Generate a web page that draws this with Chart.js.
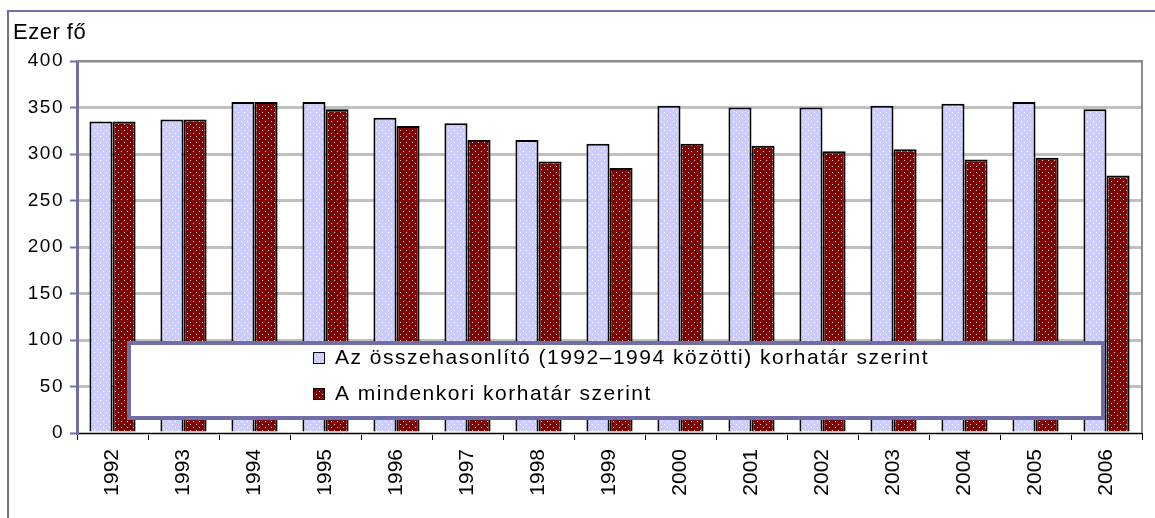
<!DOCTYPE html>
<html>
<head>
<meta charset="utf-8">
<script src="https://cdn.jsdelivr.net/npm/chart.js@4/dist/chart.umd.min.js"></script>
<style>
html,body{margin:0;padding:0;background:#fff;}
#c{display:block;}
</style>
</head>
<body>
<canvas id="c" width="1155" height="518"></canvas>
<script>
const years = ['1992','1993','1994','1995','1996','1997','1998','1999','2000','2001','2002','2003','2004','2005','2006'];
const comparativeAge = [335,337,356,356,339,333,315,311,352,350,350,352,354,356,348];
const currentAge = [335,337,356,348,330,315,292,285,311,309,303,305,294,296,277];
const seriesNames = ['Az összehasonlító (1992–1994 közötti) korhatár szerint', 'A mindenkori korhatár szerint'];
const axisTitle = 'Ezer fő';
const yMin = 0, yMax = 400, yStep = 50;

const FONT = "'Liberation Sans', Arial, sans-serif";
const SLATE = '#6f6fa6';

function makePattern(bg, dot){
  const t = document.createElement('canvas');
  t.width = 6; t.height = 6;
  const g = t.getContext('2d');
  g.fillStyle = bg; g.fillRect(0,0,6,6);
  g.fillStyle = dot;
  g.fillRect(1,1,1,1);
  g.fillRect(4,4,1,1);
  return g.createPattern(t,'repeat');
}
const ctx0 = document.getElementById('c').getContext('2d');
const bluePat = makePattern('#ccccff', '#ffffff');
const redPat = makePattern('#800000', '#f0d8d8');

const decor = {
  id: 'decor',
  beforeDraw(chart){
    const ctx = chart.ctx;
    ctx.save();
    ctx.fillStyle = '#fff';
    ctx.fillRect(0,0,chart.width,chart.height);
    ctx.strokeStyle = SLATE; ctx.lineWidth = 2;
    ctx.beginPath();
    ctx.moveTo(8, chart.height+5); ctx.lineTo(8, 11); ctx.lineTo(chart.width+5, 11);
    ctx.stroke();
    ctx.fillStyle = '#000';
    ctx.font = '22px ' + FONT;
    ctx.letterSpacing = '0.5px';
    ctx.textBaseline = 'alphabetic';
    ctx.fillText(axisTitle, 13, 39);
    ctx.restore();
    const ys = chart.scales.y;
    if (ys && !ys._wrapped){
      const orig = ys.drawLabels;
      ys.drawLabels = function(area){
        const c = this.ctx; c.save(); c.letterSpacing = '1.5px'; orig.call(this, area); c.restore();
      };
      ys._wrapped = true;
    }
  },
  afterDatasetsDraw(chart){
    const ctx = chart.ctx, a = chart.chartArea;
    ctx.save();
    ctx.strokeStyle = '#8c8c8c'; ctx.lineWidth = 2;
    ctx.beginPath();
    ctx.moveTo(a.left, a.top); ctx.lineTo(a.right, a.top); ctx.lineTo(a.right, a.bottom);
    ctx.stroke();
    const lx = 129, ly = 343, lw = 974, lh = 75;
    ctx.fillStyle = '#fff';
    ctx.fillRect(lx, ly, lw, lh);
    ctx.strokeStyle = SLATE; ctx.lineWidth = 4;
    ctx.strokeRect(lx, ly, lw, lh);
    ctx.font = '21px ' + FONT;
    ctx.fillStyle = '#000';
    ctx.textBaseline = 'middle';
    ctx.letterSpacing = '0px';
    const w0 = ctx.measureText(seriesNames[0]).width;
    const sp = Math.max(0, (594 - w0) / seriesNames[0].length);
    ctx.letterSpacing = sp.toFixed(2) + 'px';
    const pats = [bluePat, redPat];
    const rows = [358, 394];
    for (let i = 0; i < 2; i++){
      ctx.fillStyle = pats[i];
      ctx.fillRect(313, rows[i]-6, 11, 11);
      ctx.strokeStyle = '#000'; ctx.lineWidth = 1;
      ctx.strokeRect(313.5, rows[i]-5.5, 11, 11);
      ctx.fillStyle = '#000';
      ctx.fillText(seriesNames[i], 335, rows[i]);
    }
    ctx.restore();
  }
};

new Chart(ctx0, {
  type: 'bar',
  data: {
    labels: years,
    datasets: [
      { label: seriesNames[0], data: comparativeAge, backgroundColor: bluePat, borderColor: '#000', borderWidth: 2, borderSkipped: 'bottom' },
      { label: seriesNames[1], data: currentAge, backgroundColor: redPat, borderColor: '#000', borderWidth: 2, borderSkipped: 'bottom' }
    ]
  },
  options: {
    responsive: false,
    animation: false,
    events: [],
    layout: { padding: { left: 0, right: 13, top: 61, bottom: 0 } },
    datasets: { bar: { categoryPercentage: 0.65, barPercentage: 1.0 } },
    plugins: { legend: { display: false }, tooltip: { enabled: false }, title: { display: false } },
    scales: {
      x: {
        offset: true,
        grid: { display: true, drawOnChartArea: false, offset: true, color: '#000', tickLength: 7, lineWidth: 1 },
        border: { color: '#000', width: 1 },
        ticks: { color: '#000', font: { size: 21, family: FONT }, maxRotation: 90, minRotation: 90, padding: 9, autoSkip: false },
        afterFit(s){ s.height = 85; }
      },
      y: {
        min: yMin, max: yMax,
        ticks: { stepSize: yStep, color: '#000', font: { size: 19, family: FONT }, padding: 6 },
        grid: { color: '#c0c0c0', lineWidth: 3, tickColor: SLATE, tickLength: 7, tickWidth: 2 },
        border: { color: SLATE, width: 3 },
        afterFit(s){ s.width = 77; }
      }
    }
  },
  plugins: [decor]
});
</script>
</body>
</html>
